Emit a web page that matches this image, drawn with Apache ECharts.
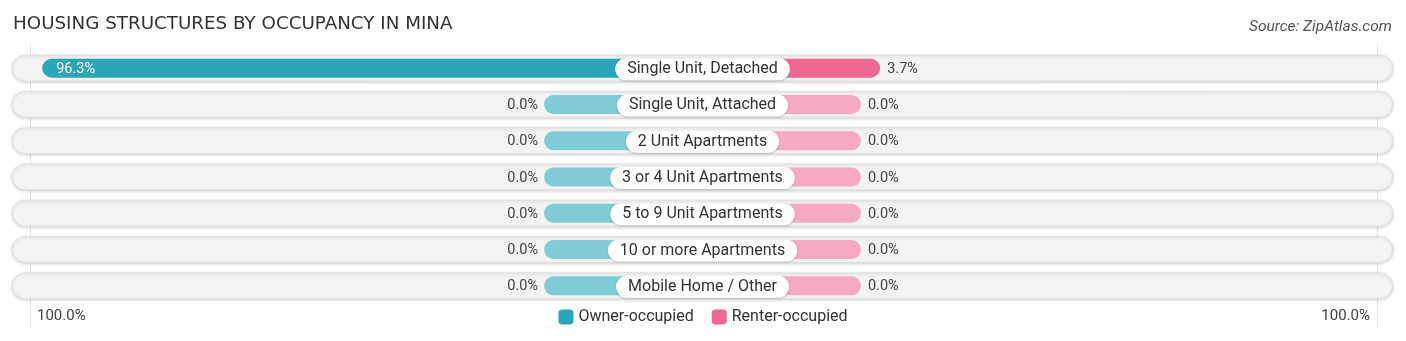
<!DOCTYPE html>
<html>
<head>
<meta charset="utf-8">
<script src="https://cdn.jsdelivr.net/npm/echarts@6/dist/echarts.min.js"></script>
<style>
html,body{margin:0;padding:0;background:#fff;}
#chart{width:1406px;height:341px;}
</style>
</head>
<body>
<div id="chart"></div>
<script>
const categories = ["Single Unit, Detached","Single Unit, Attached","2 Unit Apartments","3 or 4 Unit Apartments","5 to 9 Unit Apartments","10 or more Apartments","Mobile Home / Other"];
const ownerValues = [96.3, 0, 0, 0, 0, 0, 0];
const renterValues = [3.7, 0, 0, 0, 0, 0, 0];
const tickLabels = ["100.0%", "100.0%"];
const seriesNames = ["Owner-occupied", "Renter-occupied"];

const C_OWNER = '#2ba5b8', C_OWNER_L = '#7fccd6';
const C_RENT = '#f06792', C_RENT_L = '#f7a9c3';
const STUB = 30.4;      // minimum bar length (axis units) behind the centre label
const AX = 132.5;       // half width of axis
const FONT = 'Roboto, "Noto Sans", sans-serif';

const chart = echarts.init(document.getElementById('chart'), null, {renderer: 'canvas'});

function fmt(v){ return v.toFixed(1) + '%'; }

const trackData = categories.map((c, i) => [i]);
const ownerData = ownerValues.map((v, i) => [v, i]);
const renterData = renterValues.map((v, i) => [v, i]);

function trackItem(params, api){
  const idx = api.value(0);
  const p0 = api.coord([-AX, idx]);
  const p1 = api.coord([AX, idx]);
  const h = 26;
  return {
    type: 'rect',
    shape: {x: p0[0], y: p0[1] - h/2, width: p1[0] - p0[0], height: h, r: h/2},
    style: {fill: '#f4f4f4', stroke: '#e0e0e0', lineWidth: 1, shadowBlur: 3, shadowColor: 'rgba(0,0,0,0.15)', shadowOffsetY: 1}
  };
}

function barItem(side){
  return function(params, api){
    const v = api.value(0);
    const idx = api.value(1);
    const len = STUB + v;
    const pc = api.coord([0, idx]);
    const pe = api.coord([side * len, idx]);
    const h = 19;
    const x = Math.min(pc[0], pe[0]);
    const w = Math.abs(pe[0] - pc[0]);
    const dark = v > 0;
    const color = side < 0 ? (dark ? C_OWNER : C_OWNER_L) : (dark ? C_RENT : C_RENT_L);
    const children = [{
      type: 'rect',
      shape: {x: x, y: pc[1] - h/2, width: w, height: h, r: h/2},
      style: {fill: color}
    }];
    const inside = v > 50;
    let tx, align, fill;
    if (side < 0) {
      if (inside) { tx = pe[0] + 14; align = 'left'; fill = '#fff'; }
      else { tx = pe[0] - 6; align = 'right'; fill = '#444'; }
    } else {
      if (inside) { tx = pe[0] - 14; align = 'right'; fill = '#fff'; }
      else { tx = pe[0] + 7; align = 'left'; fill = '#444'; }
    }
    children.push({
      type: 'text',
      style: {x: tx, y: pc[1] + 1, text: fmt(v), align: align, verticalAlign: 'middle', fill: fill, font: '14.5px ' + FONT}
    });
    return {type: 'group', children: children};
  };
}

function labelItem(params, api){
  const idx = api.value(0);
  const pc = api.coord([0, idx]);
  return {
    type: 'text',
    style: {
      x: pc[0], y: pc[1] + 1, text: categories[idx], align: 'center', verticalAlign: 'middle',
      fill: '#333', font: '16px ' + FONT,
      backgroundColor: '#fff', borderRadius: 12, padding: [3, 12, 3, 12],
      shadowBlur: 2, shadowColor: 'rgba(0,0,0,0.2)', shadowOffsetY: 1
    }
  };
}

const option = {
  backgroundColor: '#fff',
  animation: false,
  title: [{
    text: 'HOUSING STRUCTURES BY OCCUPANCY IN MINA',
    left: 8, top: 10,
    textStyle: {fontFamily: '"DejaVu Sans", sans-serif', fontSize: 18.3, fontWeight: 'normal', color: '#333'}
  }, {
    text: 'Source: ZipAtlas.com',
    right: 9, top: 14,
    textStyle: {fontFamily: FONT, fontSize: 15.5, fontStyle: 'italic', fontWeight: 'normal', color: '#555'}
  }],
  legend: {
    data: seriesNames.map((n, i) => ({name: n, itemStyle: {color: i === 0 ? C_OWNER : C_RENT}})),
    left: 'center', top: 304, itemWidth: 15, itemHeight: 15, itemGap: 18,
    icon: 'roundRect',
    textStyle: {fontFamily: FONT, fontSize: 16, color: '#333'}
  },
  grid: {left: 12, right: 13, top: 50, bottom: 37},
  xAxis: {type: 'value', min: -AX, max: AX, show: false},
  yAxis: {type: 'category', data: categories, inverse: true, show: false},
  graphic: [
    {type: 'line', shape: {x1: 30.5, y1: 44, x2: 30.5, y2: 328}, style: {stroke: '#e2e2e2', lineWidth: 1}, z: -1},
    {type: 'line', shape: {x1: 1377.5, y1: 44, x2: 1377.5, y2: 328}, style: {stroke: '#e2e2e2', lineWidth: 1}, z: -1},
    {type: 'text', left: 37, top: 309, style: {text: tickLabels[0], fill: '#444', font: '15px ' + FONT}},
    {type: 'text', right: 36, top: 309, style: {text: tickLabels[1], fill: '#444', font: '15px ' + FONT, align: 'right'}}
  ],
  series: [
    {type: 'custom', name: 'track', renderItem: trackItem, data: trackData, encode: {y: 0}, z: 1, silent: true},
    {type: 'custom', name: seriesNames[0], renderItem: barItem(-1), data: ownerData, encode: {x: 0, y: 1}, z: 2, itemStyle: {color: C_OWNER}},
    {type: 'custom', name: seriesNames[1], renderItem: barItem(1), data: renterData, encode: {x: 0, y: 1}, z: 2, itemStyle: {color: C_RENT}},
    {type: 'custom', name: 'labels', renderItem: labelItem, data: trackData, encode: {y: 0}, z: 3, silent: true}
  ]
};
chart.setOption(option);
</script>
</body>
</html>
